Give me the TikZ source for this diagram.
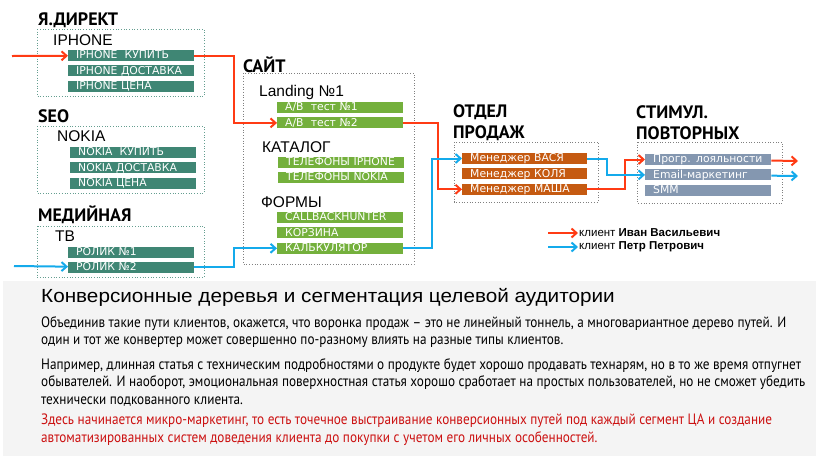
\documentclass[tikz,border=0pt]{standalone}
\usepackage{fontspec}
\setmainfont{Liberation Sans}
\newfontfamily\headfont{PT Sans}
\newfontfamily\barfont{DejaVu Sans}
\newfontfamily\titlefont[FakeStretch=1.09]{Liberation Sans}
\newfontfamily\bodyfont[FakeStretch=0.88]{PT Sans}
\usetikzlibrary{arrows.meta, positioning}
\definecolor{keyteal}{HTML}{3F8674}
\definecolor{pagegreen}{HTML}{74B03C}
\definecolor{mgrorange}{HTML}{C55A11}
\definecolor{retgray}{HTML}{8497B0}
\definecolor{ivanred}{HTML}{FF3B14}
\definecolor{petrblue}{HTML}{14AAEB}
\definecolor{notered}{HTML}{CC1111}
\definecolor{panelgray}{HTML}{F4F4F4}
\tikzset{
    grouptitle/.style={anchor=west, inner sep=0, align=left, font=\headfont\bfseries\fontsize{18}{21}\selectfont},
    grouplabel/.style={anchor=west, inner sep=0, font=\fontsize{15.5}{17}\selectfont},
    srcbox/.style={draw=keyteal!80, dotted, line width=0.7pt},
    stagebox/.style={draw=gray, dotted, line width=0.7pt},
    bar/.style={rectangle, text=white, minimum height=11pt, inner ysep=0pt, inner xsep=8pt, text width=110pt, text height=8.2pt, text depth=1.3pt, align=left, font=\barfont\fontsize{10.8}{11}\selectfont},
    keybar/.style={bar, fill=keyteal},
    pagebar/.style={bar, fill=pagegreen},
    mgrbar/.style={bar, fill=mgrorange, text width=109pt},
    retbar/.style={bar, fill=retgray},
    ivanpath/.style={draw=ivanred, line width=2pt, -{Straight Barb[length=5pt, width=9pt]}},
    petrpath/.style={draw=petrblue, line width=2pt, -{Straight Barb[length=5pt, width=9pt]}},
    legendtext/.style={anchor=west, inner sep=1pt, font=\fontsize{11.5}{13}\selectfont},
    bodytext/.style={anchor=north west, inner sep=0, align=left, font=\bodyfont\fontsize{15}{17.5}\selectfont}
}
\begin{document}
\begin{tikzpicture}[x=1pt, y=-1pt, node distance=4pt]
    \useasboundingbox (0,0) rectangle (816,459);
    \fill[panelgray] (3,281) rectangle (816,456);

    % Traffic sources
    \node[grouptitle] (direct) at (38,20) {Я.ДИРЕКТ};
    \draw[srcbox] (37,29) rectangle (204,96);
    \node[grouplabel] (iphone) at (53,40) {IPHONE};
    \node[keybar, anchor=west] (iph1) at (68,55.5) {IPHONE\ \ КУПИТЬ};
    \node[keybar, below=of iph1] (iph2) {IPHONE ДОСТАВКА};
    \node[keybar, below=of iph2] (iph3) {IPHONE ЦЕНА};

    \node[grouptitle] (seo) at (38,116.5) {SEO};
    \draw[srcbox] (37,126) rectangle (204,193);
    \node[grouplabel] (nokia) at (57,136.5) {NOKIA};
    \node[keybar, anchor=west] (nok1) at (70,152.5) {NOKIA\ \ КУПИТЬ};
    \node[keybar, below=of nok1] (nok2) {NOKIA ДОСТАВКА};
    \node[keybar, below=of nok2] (nok3) {NOKIA ЦЕНА};

    \node[grouptitle] (media) at (38,215) {МЕДИЙНАЯ};
    \draw[srcbox] (37,226) rectangle (204,277);
    \node[grouplabel] (tv) at (55,236) {ТВ};
    \node[keybar, anchor=west] (rol1) at (68,252) {РОЛИК №1};
    \node[keybar, below=of rol1] (rol2) {РОЛИК №2};

    % Site
    \node[grouptitle] (site) at (243,64.5) {САЙТ};
    \draw[stagebox] (243,73) rectangle (414,264);
    \node[grouplabel] (landing) at (259,92) {Landing №1};
    \node[pagebar, anchor=west] (ab1) at (277,107.5) {А/В\ \ тест №1};
    \node[pagebar, below=of ab1] (ab2) {А/В\ \ тест №2};
    \node[grouplabel] (catalog) at (262,147.5) {КАТАЛОГ};
    \node[pagebar, anchor=west] (cat1) at (278,162) {ТЕЛЕФОНЫ IPHONE};
    \node[pagebar, below=of cat1] (cat2) {ТЕЛЕФОНЫ NOKIA};
    \node[grouplabel] (forms) at (261,202) {ФОРМЫ};
    \node[pagebar, anchor=west] (cbh) at (277,217.5) {CALLBACKHUNTER};
    \node[pagebar, below=of cbh] (cart) {КОРЗИНА};
    \node[pagebar, below=of cart] (calc) {КАЛЬКУЛЯТОР};

    % Sales
    \node[grouptitle, anchor=north west] (sales) at (453,104) {ОТДЕЛ\\ПРОДАЖ};
    \draw[stagebox] (454,142) rectangle (598,202);
    \node[mgrbar, anchor=west] (vasya) at (462,158.5) {Менеджер ВАСЯ};
    \node[mgrbar, below=of vasya] (kolya) {Менеджер КОЛЯ};
    \node[mgrbar, below=of kolya] (masha) {Менеджер МАША};

    % Repeat sales
    \node[grouptitle, anchor=north west] (repeat) at (636,105) {СТИМУЛ.\\ПОВТОРНЫХ};
    \draw[stagebox] (637,142) rectangle (782,203);
    \node[retbar, anchor=west] (loyal) at (645,159.5) {Прогр. лояльности};
    \node[retbar, below=of loyal] (email) {Email-маркетинг};
    \node[retbar, below=of email] (smm) {SMM};

    % Client paths
    \coordinate (ivanin) at (12,56);
    \coordinate (ivanout) at (798,161);
    \coordinate (petrin) at (14,266);
    \coordinate (petrout) at (798,176);
    \draw[ivanpath] (ivanin) -- (iph1);
    \draw[ivanpath] (iph1.east) -- ++(40,0) |- (ab2);
    \draw[ivanpath] (ab2.east) -- ++(35,0) |- (masha);
    \draw[ivanpath] (masha.east) -- ++(38,0) |- (loyal);
    \draw[ivanpath] (loyal) -- (ivanout);
    \draw[petrpath] (petrin) -- (rol2);
    \draw[petrpath] (rol2.east) -- ++(40,0) |- (calc);
    \draw[petrpath] (calc.east) -- ++(29,0) |- (vasya);
    \draw[petrpath] (vasya.east) -- ++(20,0) |- (email);
    \draw[petrpath] (email) -- (petrout);

    % Legend
    \coordinate (ivanleg) at (548,233);
    \coordinate (petrleg) at (548,247);
    \node[legendtext] (ivan) at (578,233) {клиент \textbf{Иван Васильевич}};
    \node[legendtext] (petr) at (578,247) {клиент \textbf{Петр Петрович}};
    \draw[ivanpath] (ivanleg) -- (ivan);
    \draw[petrpath] (petrleg) -- (petr);

    % Text panel
    \node[anchor=west, inner sep=0, font=\titlefont\fontsize{19}{21}\selectfont] (ptitle) at (41,297) {Конверсионные деревья и сегментация целевой аудитории};
    \node[bodytext] (para1) at (41,316) {Объединив такие пути клиентов, окажется, что воронка продаж – это не линейный тоннель, а многовариантное дерево путей. И\\один и тот же конвертер может совершенно по-разному влиять на разные типы клиентов.};
    \node[bodytext] (para2) at (41,358) {Например, длинная статья с техническим подробностями о продукте будет хорошо продавать технарям, но в то же время отпугнет\\обывателей. И наоборот, эмоциональная поверхностная статья хорошо сработает на простых пользователей, но не сможет убедить\\технически подкованного клиента.};
    \node[bodytext, text=notered] (para3) at (41,414) {Здесь начинается микро-маркетинг, то есть точечное выстраивание конверсионных путей под каждый сегмент ЦА и создание\\автоматизированных систем доведения клиента до покупки с учетом его личных особенностей.};
\end{tikzpicture}
\end{document}
